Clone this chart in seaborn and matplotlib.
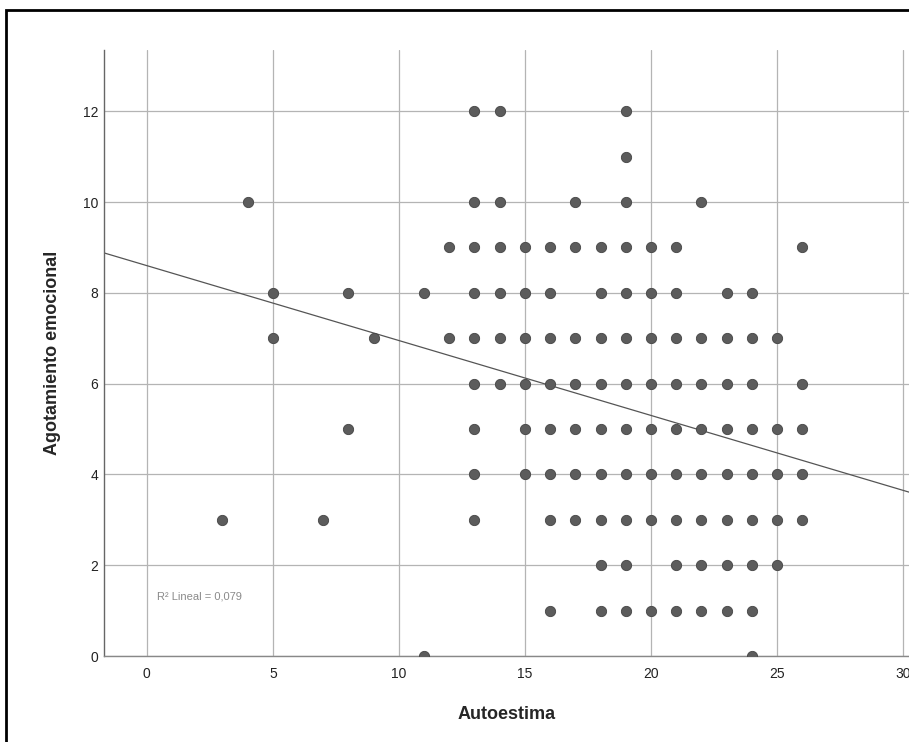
import pandas as pd
import seaborn as sns
import matplotlib.pyplot as plt
from matplotlib.patches import Rectangle

# Autoestima values observed at each level of Agotamiento emocional
fila_12 = [13, 14, 19]
fila_11 = [19]
fila_10 = [4, 13, 14, 17, 19, 22]
fila_9 = [12, 13, 14, 15, 16, 17, 18, 19, 20, 21, 26]
fila_8 = [5, 8, 11, 13, 14, 15, 16, 18, 19, 20, 21, 23, 24]
fila_7 = [5, 9, 12, 13, 14, 15, 16, 17, 18, 19, 20, 21, 22, 23, 24, 25]
fila_6 = [13, 14, 15, 16, 17, 18, 19, 20, 21, 22, 23, 24, 26]
fila_5 = [8, 13, 15, 16, 17, 18, 19, 20, 21, 22, 23, 24, 25, 26]
fila_4 = [13, 15, 16, 17, 18, 19, 20, 21, 22, 23, 24, 25, 26]
fila_3 = [3, 7, 13, 16, 17, 18, 19, 20, 21, 22, 23, 24, 25, 26]
fila_2 = [18, 19, 21, 22, 23, 24, 25]
fila_1 = [16, 18, 19, 20, 21, 22, 23, 24]
fila_0 = [11, 24]

filas = [fila_0, fila_1, fila_2, fila_3, fila_4, fila_5, fila_6,
         fila_7, fila_8, fila_9, fila_10, fila_11, fila_12]

# recta de ajuste lineal
intercepto = 8.6
pendiente = -0.165
r2_texto = "R² Lineal = 0,079"

x_ticks = [0, 5, 10, 15, 20, 25, 30]
y_ticks = [0, 2, 4, 6, 8, 10, 12]

autoestima = []
agotamiento = []
for nivel, valores in enumerate(filas):
    for v in valores:
        autoestima.append(v)
        agotamiento.append(nivel)
df = pd.DataFrame({"Autoestima": autoestima, "Agotamiento emocional": agotamiento})

sns.set_theme(style="whitegrid")
plt.rcParams['font.family'] = ['Liberation Sans Narrow', 'Liberation Sans', 'DejaVu Sans']

fig = plt.figure(figsize=(9.09, 7.42), dpi=100)
ax = fig.add_axes([0.1144, 0.1159, 0.8856, 0.8167])

sns.scatterplot(data=df, x="Autoestima", y="Agotamiento emocional", ax=ax,
                s=55, color="#5c5c5c", edgecolor="#444444", linewidth=0.6, zorder=3)
ax.axline((0, intercepto), slope=pendiente, color="#555555", linewidth=0.9, zorder=2)

ax.set_xlim(-1.7, 30.24)
ax.set_ylim(0, 13.35)
ax.set_xticks(x_ticks)
ax.set_yticks(y_ticks)
ax.grid(True, color="#b4b4b4", linewidth=0.9)
ax.tick_params(length=0, labelsize=10, colors="#222222")
ax.tick_params(axis="x", pad=8)
ax.tick_params(axis="y", pad=4)

for lado in ["top", "right"]:
    ax.spines[lado].set_visible(False)
ax.spines["left"].set_color("#666666")
ax.spines["bottom"].set_color("#888888")
ax.spines["left"].set_linewidth(1.0)
ax.spines["bottom"].set_linewidth(1.0)

ax.set_xlabel("Autoestima", fontsize=13, fontweight="bold",
              family=['Liberation Sans', 'DejaVu Sans'], labelpad=18)
ax.set_ylabel("Agotamiento emocional", fontsize=13, fontweight="bold",
              family=['Liberation Sans', 'DejaVu Sans'], labelpad=16)

ax.text(0.4, 1.3, r2_texto, fontsize=8, color="#8a8a8a", va="center", ha="left")

# marco exterior del grafico
fig.patches.append(Rectangle((0.007, -0.05), 1.2, 0.9865 + 0.05, transform=fig.transFigure,
                             fill=False, edgecolor="black", linewidth=2))

fig.savefig("out.png", dpi=100)
